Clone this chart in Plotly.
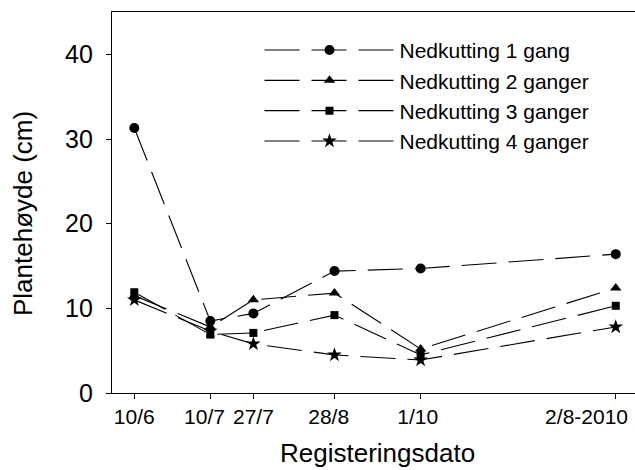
import plotly.graph_objects as go

# ---- data ----
dates = ["10/6", "10/7", "27/7", "28/8", "1/10", "2/8-2010"]
day_pos = [161, 191, 208, 240, 274, 351]          # positions on the date axis (day numbers)
series_names = ["Nedkutting 1 gang", "Nedkutting 2 ganger",
                "Nedkutting 3 ganger", "Nedkutting 4 ganger"]
cut1 = [31.3, 8.5, 9.4, 14.4, 14.7, 16.4]
cut2 = [11.5, 7.8, 11.0, 11.8, 5.2, 12.4]
cut3 = [11.9, 6.9, 7.1, 9.2, 4.5, 10.3]
cut4 = [11.0, 7.3, 5.8, 4.5, 3.9, 7.8]
y_ticks = [0, 10, 20, 30, 40]

symbols = ["circle", "triangle-up", "square", "star"]
sizes = [10, 10, 8, 11]

FONT = "Liberation Sans, Arial, sans-serif"
NB = "\u00a0"
# trailing no-break spaces nudge some labels left, as in the reference
pad = [0, 2, 0, 2, 1, 10]
tick_text = [d + NB * p for d, p in zip(dates, pad)]

fig = go.Figure()
for name, vals, sym, sz in zip(series_names, [cut1, cut2, cut3, cut4], symbols, sizes):
    fig.add_trace(go.Scatter(
        x=day_pos, y=vals, name=name, mode="lines+markers",
        line=dict(color="black", width=1.1, dash="35px,12px"),
        marker=dict(symbol=sym, size=sz, color="black", line=dict(width=0)),
    ))

fig.update_layout(
    width=635, height=470,
    margin=dict(l=112, r=0, t=12, b=77, autoexpand=False),
    paper_bgcolor="white", plot_bgcolor="white",
    font=dict(family=FONT, color="black"),
    showlegend=True,
    legend=dict(
        x=0.282, y=0.953, xanchor="left", yanchor="top",
        bgcolor="rgba(0,0,0,0)", font=dict(size=21, family=FONT),
        itemwidth=130, tracegroupgap=0,
    ),
    xaxis=dict(
        range=[152.2, 358.6], tickmode="array", tickvals=day_pos, ticktext=tick_text,
        showgrid=False, zeroline=False, showline=True, linecolor="black", linewidth=1.2,
        mirror=True, ticks="outside", ticklen=5, tickcolor="black", tickwidth=1,
        tickfont=dict(size=21, family=FONT), ticklabeloverflow="allow",
        tickangle=0, automargin=False,
    ),
    yaxis=dict(
        range=[0, 45], tickmode="array", tickvals=y_ticks,
        showgrid=False, zeroline=False, showline=True, linecolor="black", linewidth=1.2,
        ticks="outside", ticklen=5, tickcolor="black", tickwidth=1,
        tickfont=dict(size=25, family=FONT), ticklabelstandoff=8, automargin=False,
    ),
    annotations=[
        dict(text="Registeringsdato", xref="paper", yref="paper",
             x=0.5067, y=-0.157, xanchor="center", yanchor="middle",
             showarrow=False, font=dict(size=26, family=FONT)),
        dict(text="Plantehøyde (cm)", xref="paper", yref="paper",
             x=-0.170, y=0.470, xanchor="center", yanchor="middle", textangle=-90,
             showarrow=False, font=dict(size=26, family=FONT)),
    ],
)

fig.write_html("out.html", config={"displayModeBar": False},
               post_script="document.body.style.margin='0';document.body.style.overflow='hidden';")
